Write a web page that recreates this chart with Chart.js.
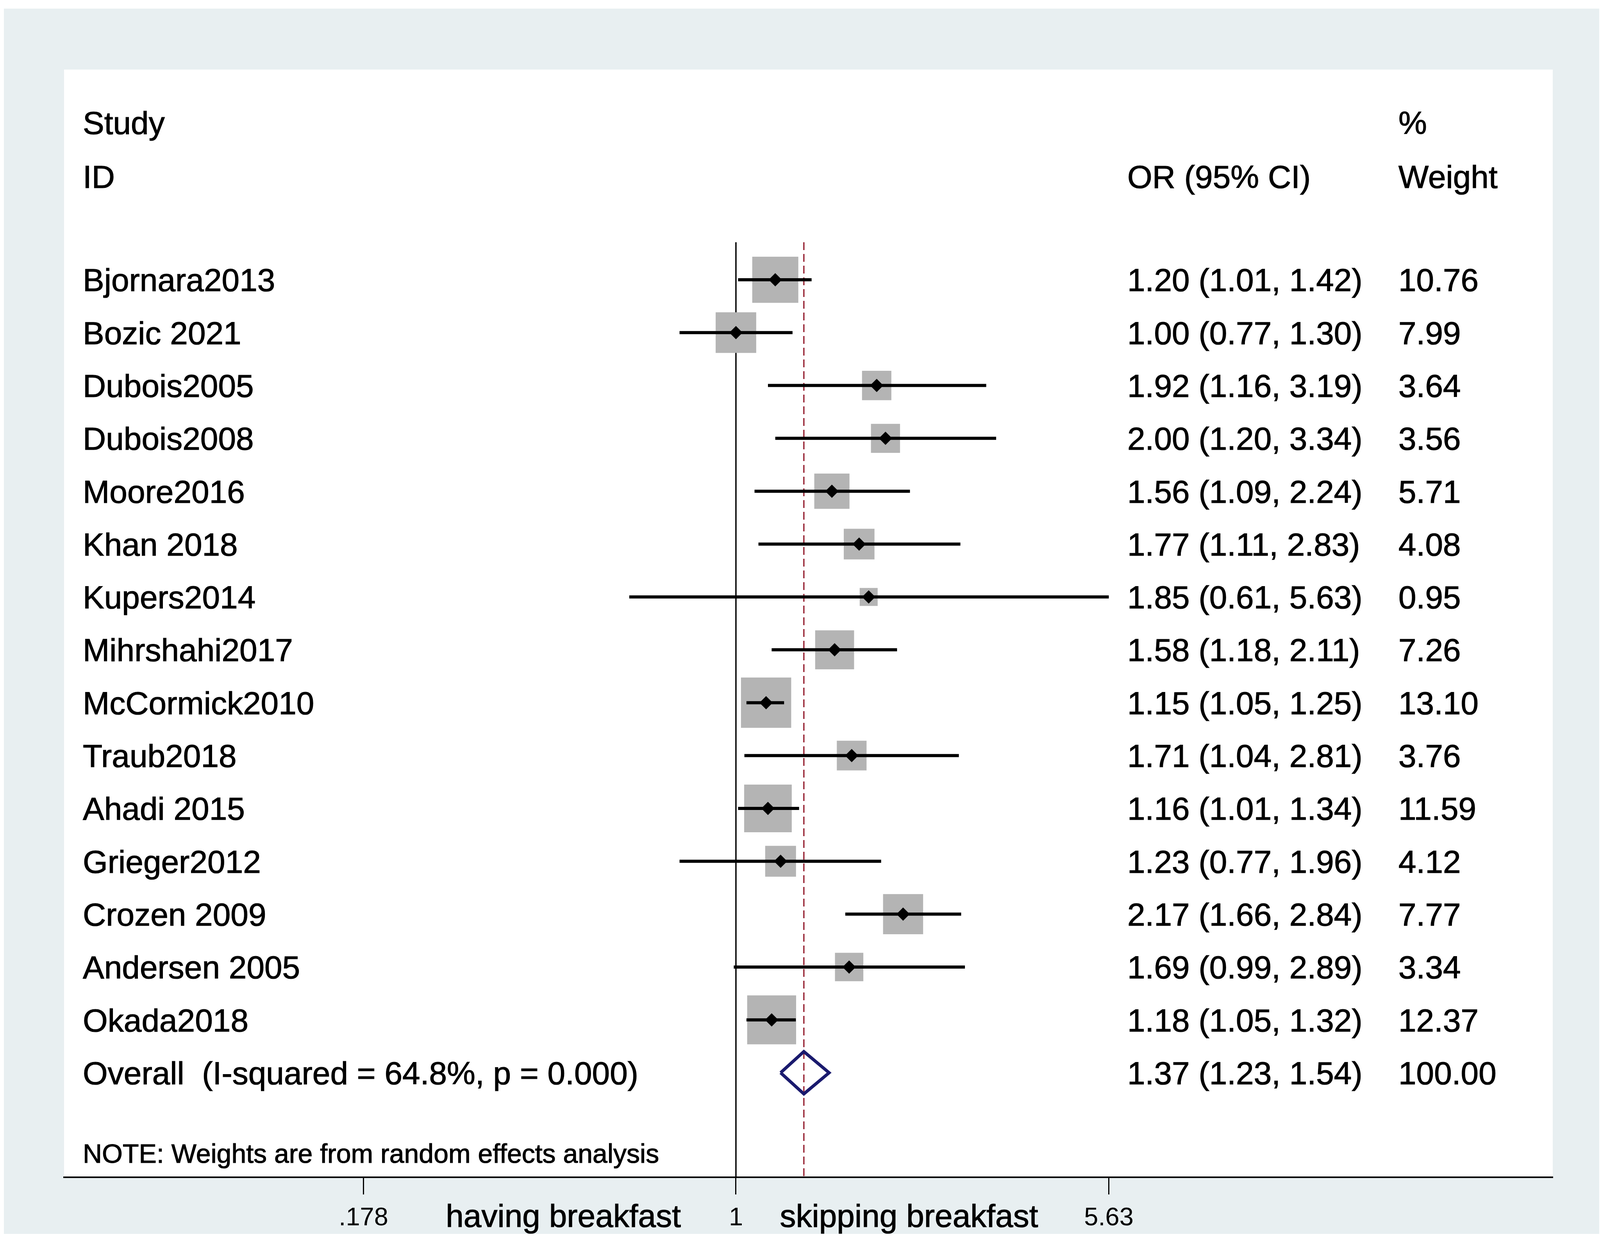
<!DOCTYPE html>
<html>
<head>
<meta charset="utf-8">
<title>Forest plot - skipping breakfast</title>
<script src="https://cdn.jsdelivr.net/npm/chart.js@4.4.1/dist/chart.umd.min.js"></script>
<style>
  html, body { margin: 0; padding: 0; background: #ffffff; }
  #wrap { width: 4107px; height: 3171px; }
</style>
</head>
<body>
<div id="wrap"><canvas id="forest" width="4107" height="3171"></canvas></div>
<script>
// --- data ---
const studies = ['Bjornara2013', 'Bozic 2021', 'Dubois2005', 'Dubois2008', 'Moore2016',
    'Khan 2018', 'Kupers2014', 'Mihrshahi2017', 'McCormick2010', 'Traub2018',
    'Ahadi 2015', 'Grieger2012', 'Crozen 2009', 'Andersen 2005', 'Okada2018'];
const oddsRatio = [1.20, 1.00, 1.92, 2.00, 1.56, 1.77, 1.85, 1.58, 1.15, 1.71, 1.16, 1.23, 2.17, 1.69, 1.18];
const ciLower   = [1.01, 0.77, 1.16, 1.20, 1.09, 1.11, 0.61, 1.18, 1.05, 1.04, 1.01, 0.77, 1.66, 0.99, 1.05];
const ciUpper   = [1.42, 1.30, 3.19, 3.34, 2.24, 2.83, 5.63, 2.11, 1.25, 2.81, 1.34, 1.96, 2.84, 2.89, 1.32];
const weights   = [10.76, 7.99, 3.64, 3.56, 5.71, 4.08, 0.95, 7.26, 13.10, 3.76, 11.59, 4.12, 7.77, 3.34, 12.37];

const overallLabel = 'Overall  (I-squared = 64.8%, p = 0.000)';
const overallEstimate = [1.37, 1.23, 1.54]; // OR, lower, upper
const overallWeight = 100.00;

const tickValues = [0.178, 1, 5.63];
const tickLabels = ['.178', '1', '5.63'];
const favourLabels = ['having breakfast', 'skipping breakfast'];
const noteText = 'NOTE: Weights are from random effects analysis';

// --- layout helpers ---
const FONT = '"Liberation Sans", Arial, sans-serif';
const overallRow = studies.length;
const yTop = -3.976;
const yBottom = 16.977;
const refTop = -0.71;

function fmt(v) { return v.toFixed(2); }
function boxSide(w) { return 15.6 + 31.2 * Math.sqrt(w); }

// weighted boxes, point estimates and CI lines
const boxPoints = oddsRatio.map((v, i) => ({ x: v, y: i }));
const ciDatasets = studies.map((s, i) => ({
    label: s + ' CI',
    data: [{ x: ciLower[i], y: i }, { x: ciUpper[i], y: i }],
    showLine: true,
    borderColor: '#000000',
    borderWidth: 8,
    pointRadius: 0,
    order: 2
}));

const [ovOr, ovLo, ovHi] = overallEstimate;
const diamond = [
    { x: ovLo, y: overallRow },
    { x: ovOr, y: overallRow - 0.4 },
    { x: ovHi, y: overallRow },
    { x: ovOr, y: overallRow + 0.4 },
    { x: ovLo, y: overallRow }
];

const backgroundPlugin = {
    id: 'background',
    beforeDraw(chart) {
        const { ctx, chartArea } = chart;
        ctx.save();
        ctx.fillStyle = '#ffffff';
        ctx.fillRect(0, 0, chart.width, chart.height);
        ctx.fillStyle = '#e8eff1';
        ctx.fillRect(10, 22, chart.width - 23, chart.height - 35);
        ctx.fillStyle = '#ffffff';
        ctx.fillRect(chartArea.left, chartArea.top, chartArea.right - chartArea.left, chartArea.bottom - chartArea.top);
        ctx.restore();
    }
};

// text slightly heavier, like the original export
function putText(ctx, s, x, y) {
    ctx.fillText(s, x, y);
    ctx.strokeText(s, x, y);
}

const textPlugin = {
    id: 'forestText',
    afterDraw(chart) {
        const { ctx, chartArea } = chart;
        const y = chart.scales.y;
        const x = chart.scales.x;
        const nameX = chartArea.left + 48;
        const orX = 2886;
        const wX = 3580;
        const big = 82;
        const mid = big * 0.358; // half cap height

        ctx.save();
        ctx.fillStyle = '#000000';
        ctx.strokeStyle = '#000000';
        ctx.lineWidth = 1.2;
        ctx.textAlign = 'left';
        ctx.textBaseline = 'alphabetic';
        ctx.font = big + 'px ' + FONT;

        // header rows
        putText(ctx, 'Study', nameX, y.getPixelForValue(-2.97) + mid);
        putText(ctx, 'ID', nameX, y.getPixelForValue(-1.95) + mid);
        putText(ctx, '%', wX, y.getPixelForValue(-2.97) + mid);
        putText(ctx, 'OR (95% CI)', orX, y.getPixelForValue(-1.95) + mid);
        putText(ctx, 'Weight', wX, y.getPixelForValue(-1.95) + mid);

        studies.forEach((s, i) => {
            const py = y.getPixelForValue(i) + mid;
            putText(ctx, s, nameX, py);
            putText(ctx, fmt(oddsRatio[i]) + ' (' + fmt(ciLower[i]) + ', ' + fmt(ciUpper[i]) + ')', orX, py);
            putText(ctx, fmt(weights[i]), wX, py);
        });

        const oy = y.getPixelForValue(overallRow) + mid;
        putText(ctx, overallLabel, nameX, oy);
        putText(ctx, fmt(ovOr) + ' (' + fmt(ovLo) + ', ' + fmt(ovHi) + ')', orX, oy);
        putText(ctx, fmt(overallWeight), wX, oy);

        ctx.font = '68px ' + FONT;
        putText(ctx, noteText, nameX, y.getPixelForValue(16.52) + 68 * 0.358);

        // labels under the axis
        ctx.font = big + 'px ' + FONT;
        ctx.textAlign = 'center';
        const by = chartArea.bottom + 127;
        putText(ctx, favourLabels[0], x.getPixelForValue(Math.exp(-0.8)), by);
        putText(ctx, favourLabels[1], x.getPixelForValue(Math.exp(0.802)), by);
        ctx.restore();
    }
};

const datasets = [
    {
        label: 'estimate',
        data: boxPoints,
        pointStyle: 'rectRot',
        pointRadius: 17,
        backgroundColor: '#000000',
        borderWidth: 0,
        order: 0
    },
    {
        label: 'overall',
        data: diamond,
        showLine: true,
        borderColor: '#1a1a6e',
        borderWidth: 8,
        borderJoinStyle: 'miter',
        pointRadius: 0,
        order: 1
    },
    ...ciDatasets,
    {
        label: 'weight',
        data: boxPoints,
        pointStyle: 'rect',
        pointRadius: ctx => boxSide(weights[ctx.dataIndex]) / Math.SQRT2,
        backgroundColor: '#b4b4b4',
        borderWidth: 0,
        order: 3
    },
    {
        label: 'overall line',
        data: [{ x: ovOr, y: refTop }, { x: ovOr, y: yBottom }],
        showLine: true,
        borderColor: '#9a2a3a',
        borderWidth: 3.5,
        borderDash: [20, 10],
        pointRadius: 0,
        order: 4
    },
    {
        label: 'null line',
        data: [{ x: 1, y: refTop }, { x: 1, y: yBottom }],
        showLine: true,
        borderColor: '#000000',
        borderWidth: 3.5,
        pointRadius: 0,
        order: 5
    }
];

new Chart(document.getElementById('forest'), {
    type: 'scatter',
    data: { datasets },
    options: {
        responsive: false,
        devicePixelRatio: 1,
        animation: false,
        events: [],
        layout: { padding: { left: 164, right: 132, top: 178, bottom: 0 } },
        plugins: {
            legend: { display: false },
            tooltip: { enabled: false }
        },
        scales: {
            x: {
                type: 'logarithmic',
                min: 0.04443,
                max: 44.06,
                bounds: 'data',
                offset: false,
                afterBuildTicks: axis => { axis.ticks = tickValues.map(v => ({ value: v })); },
                afterFit: axis => { axis.height = 158; },
                ticks: {
                    autoSkip: false,
                    maxRotation: 0,
                    padding: 22,
                    color: '#000000',
                    font: { family: FONT, size: 65 },
                    callback: value => tickLabels[tickValues.indexOf(value)]
                },
                grid: {
                    drawOnChartArea: false,
                    drawTicks: true,
                    tickLength: 44,
                    tickWidth: 3,
                    color: '#000000'
                },
                border: { display: true, color: '#000000', width: 4 }
            },
            y: {
                type: 'linear',
                display: false,
                reverse: true,
                min: yTop,
                max: yBottom
            }
        }
    },
    plugins: [backgroundPlugin, textPlugin]
});
</script>
</body>
</html>
